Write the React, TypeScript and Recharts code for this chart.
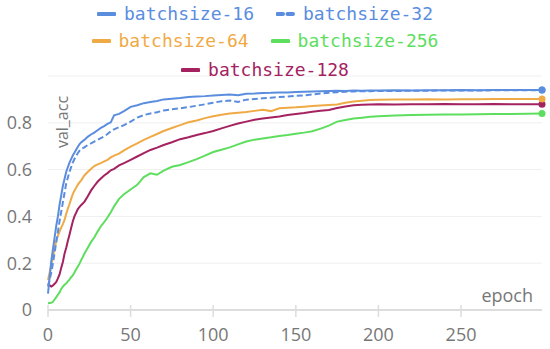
import React from "react";
import { LineChart, Line, XAxis, YAxis, CartesianGrid } from "recharts";

const epochs = [0,1,2,3,4,5,6,7,8,9,10,11,12,13,14,15,16,17,18,19,20,22,24,26,28,30,32,34,36,38,40,43,46,50,54,58,62,66,70,75,80,85,90,95,100,105,110,115,120,125,130,135,140,145,150,155,160,165,170,175,180,185,190,195,200,210,220,230,240,250,260,270,280,290,299];

const bs16 = [0.07,0.14,0.21,0.26,0.31,0.36,0.40,0.45,0.49,0.53,0.56,0.59,0.61,0.63,0.645,0.66,0.672,0.685,0.697,0.708,0.716,0.727,0.74,0.75,0.758,0.768,0.778,0.786,0.795,0.802,0.832,0.838,0.85,0.868,0.875,0.884,0.889,0.893,0.9,0.903,0.906,0.91,0.912,0.914,0.917,0.919,0.921,0.918,0.924,0.925,0.927,0.928,0.93,0.929,0.932,0.933,0.934,0.935,0.936,0.937,0.936,0.938,0.937,0.938,0.938,0.939,0.938,0.939,0.939,0.94,0.939,0.94,0.94,0.94,0.94];
const bs32 = [0.10,0.13,0.16,0.2,0.245,0.29,0.335,0.38,0.42,0.46,0.5,0.54,0.565,0.59,0.61,0.63,0.645,0.658,0.67,0.68,0.687,0.695,0.705,0.712,0.72,0.727,0.735,0.742,0.752,0.764,0.772,0.781,0.79,0.805,0.822,0.833,0.84,0.845,0.853,0.858,0.862,0.867,0.873,0.879,0.886,0.892,0.895,0.889,0.899,0.902,0.905,0.907,0.91,0.912,0.915,0.917,0.921,0.925,0.928,0.931,0.933,0.934,0.935,0.935,0.936,0.936,0.937,0.937,0.938,0.938,0.938,0.939,0.939,0.939,0.94];
const bs64 = [0.128,0.16,0.195,0.225,0.265,0.295,0.318,0.335,0.352,0.367,0.385,0.41,0.433,0.452,0.475,0.495,0.51,0.522,0.535,0.545,0.553,0.575,0.59,0.603,0.615,0.622,0.628,0.635,0.642,0.652,0.66,0.668,0.682,0.698,0.712,0.727,0.74,0.752,0.765,0.778,0.79,0.802,0.81,0.82,0.828,0.834,0.84,0.843,0.846,0.851,0.856,0.85,0.862,0.864,0.866,0.869,0.872,0.874,0.876,0.878,0.886,0.891,0.894,0.897,0.899,0.9,0.9,0.901,0.9,0.901,0.901,0.902,0.902,0.902,0.902];
const bs128 = [0.114,0.105,0.10,0.105,0.112,0.12,0.135,0.152,0.18,0.205,0.24,0.265,0.295,0.322,0.35,0.378,0.4,0.415,0.43,0.44,0.448,0.462,0.485,0.51,0.53,0.548,0.562,0.575,0.585,0.597,0.603,0.618,0.628,0.642,0.656,0.67,0.684,0.694,0.705,0.717,0.73,0.738,0.748,0.756,0.765,0.776,0.787,0.797,0.805,0.813,0.818,0.823,0.827,0.833,0.838,0.842,0.847,0.851,0.855,0.863,0.87,0.875,0.877,0.878,0.879,0.878,0.879,0.879,0.88,0.879,0.879,0.88,0.879,0.879,0.879];
const bs256 = [0.029,0.03,0.031,0.035,0.045,0.055,0.065,0.075,0.09,0.1,0.108,0.113,0.122,0.13,0.14,0.148,0.16,0.173,0.185,0.197,0.212,0.24,0.265,0.29,0.31,0.335,0.358,0.375,0.395,0.418,0.443,0.475,0.495,0.515,0.535,0.568,0.584,0.578,0.596,0.612,0.62,0.632,0.645,0.66,0.675,0.685,0.695,0.708,0.72,0.728,0.733,0.738,0.744,0.748,0.753,0.758,0.764,0.775,0.788,0.805,0.812,0.818,0.822,0.826,0.828,0.831,0.833,0.834,0.835,0.836,0.837,0.838,0.838,0.839,0.84];

const xTicks = [0, 50, 100, 150, 200, 250];
const yTicks = [0, 0.2, 0.4, 0.6, 0.8];

type Series = { key: string; name: string; values: number[]; color: string; dashed?: boolean };
const series: Series[] = [
  { key: "bs256", name: "batchsize-256", values: bs256, color: "#5ede5e" },
  { key: "bs128", name: "batchsize-128", values: bs128, color: "#a4225f" },
  { key: "bs64", name: "batchsize-64", values: bs64, color: "#f0aa45" },
  { key: "bs32", name: "batchsize-32", values: bs32, color: "#5b8ddf", dashed: true },
  { key: "bs16", name: "batchsize-16", values: bs16, color: "#5b8ddf" },
];

const legendRows = [["bs16", "bs32"], ["bs64", "bs256"], ["bs128"]];

const data = epochs.map((e, i) => {
  const row: Record<string, number> = { epoch: e };
  series.forEach((s) => (row[s.key] = s.values[i]));
  return row;
});

const FONT = "'Open Sans', sans-serif";
const GRAY = "#777";

const XTick = (props: any) => {
  const { x, y, payload } = props;
  return (
    <g>
      <line x1={x} x2={x} y1={y - 5} y2={y + 7} stroke="#ddd" strokeWidth={1.5} />
      <text x={x} y={y + 18} dy="0.71em" textAnchor="middle" fill={GRAY} fontSize={18} fontFamily={FONT}>
        {payload.value}
      </text>
    </g>
  );
};

const YTick = (props: any) => {
  const { x, y, payload } = props;
  return (
    <text x={x} y={y} dy="0.355em" textAnchor="end" fill={GRAY} fontSize={18} fontFamily={FONT}>
      {String(payload.value)}
    </text>
  );
};

const lastIndex = epochs.length - 1;
const makeDot = (color: string) => (props: any) => {
  const { cx, cy, index } = props;
  if (index !== lastIndex) return <g key={`d${index}`} />;
  return <circle key={`d${index}`} cx={cx} cy={cy} r={3.5} fill={color} stroke="none" />;
};

const LegendIcon = ({ color, dashed }: { color: string; dashed?: boolean }) => (
  <svg width={19} height={6} style={{ marginRight: 8, display: "block" }}>
    <line x1={1.5} x2={17.5} y1={3} y2={3} stroke={color} strokeWidth={4} strokeLinecap="round"
      strokeDasharray={dashed ? "5.5 4.5" : undefined} />
  </svg>
);

const LegendBlock = () => (
  <div style={{ position: "absolute", left: 0, top: 0, width: 530, pointerEvents: "none" }}>
    {legendRows.map((row, ri) => (
      <div key={ri} style={{ position: "absolute", left: 0, width: 530, top: [0, 27, 56][ri], height: 28,
        display: "flex", justifyContent: "center", alignItems: "center", gap: 22 }}>
        {row.map((k) => {
          const s = series.find((ss) => ss.key === k)!;
          return (
            <div key={k} style={{ display: "flex", alignItems: "center" }}>
              <LegendIcon color={s.color} dashed={s.dashed} />
              <span style={{ fontFamily: "'DejaVu Sans Mono', monospace", fontSize: 18, color: s.color, lineHeight: "28px" }}>
                {s.name}
              </span>
            </div>
          );
        })}
      </div>
    ))}
  </div>
);

export default function App() {
  return (
    <div style={{ position: "absolute", left: 0, top: 0, width: 550, height: 349, background: "#fff" }}>
      <LineChart width={550} height={349} data={data} margin={{ top: 76, right: 8, left: 0, bottom: 0 }}>
        <CartesianGrid vertical={false} stroke="#efefef" />
        <XAxis
          dataKey="epoch"
          type="number"
          domain={[0, 299]}
          ticks={xTicks}
          height={39}
          axisLine={{ stroke: "#ddd", strokeWidth: 2 }}
          tickLine={false}
          tickSize={0}
          tickMargin={0}
          tick={<XTick />}
          label={{
            content: (p: any) => {
              const vb = p.viewBox;
              return (
                <text x={vb.x + vb.width - 9} y={vb.y - 8} textAnchor="end" fill={GRAY} fontSize={18} fontFamily={FONT}>
                  epoch
                </text>
              );
            },
          }}
        />
        <YAxis
          type="number"
          domain={[0, 1]}
          ticks={yTicks}
          width={48}
          axisLine={false}
          tickLine={false}
          tickSize={0}
          tickMargin={16}
          tick={<YTick />}
          label={{
            content: (p: any) => {
              const vb = p.viewBox;
              const x = vb.x + vb.width + 14;
              const y = vb.y + 46;
              return (
                <text x={x} y={y} textAnchor="middle" dominantBaseline="central" transform={`rotate(-90, ${x}, ${y})`}
                  fill={GRAY} fontSize={16} fontFamily={FONT}>
                  val_acc
                </text>
              );
            },
          }}
        />
        {series.map((s) => (
          <Line
            key={s.key}
            dataKey={s.key}
            name={s.name}
            type="linear"
            stroke={s.color}
            strokeWidth={2}
            strokeDasharray={s.dashed ? "6 3" : undefined}
            dot={makeDot(s.color)}
            activeDot={false}
            isAnimationActive={false}
          />
        ))}
      </LineChart>
      <LegendBlock />
    </div>
  );
}
